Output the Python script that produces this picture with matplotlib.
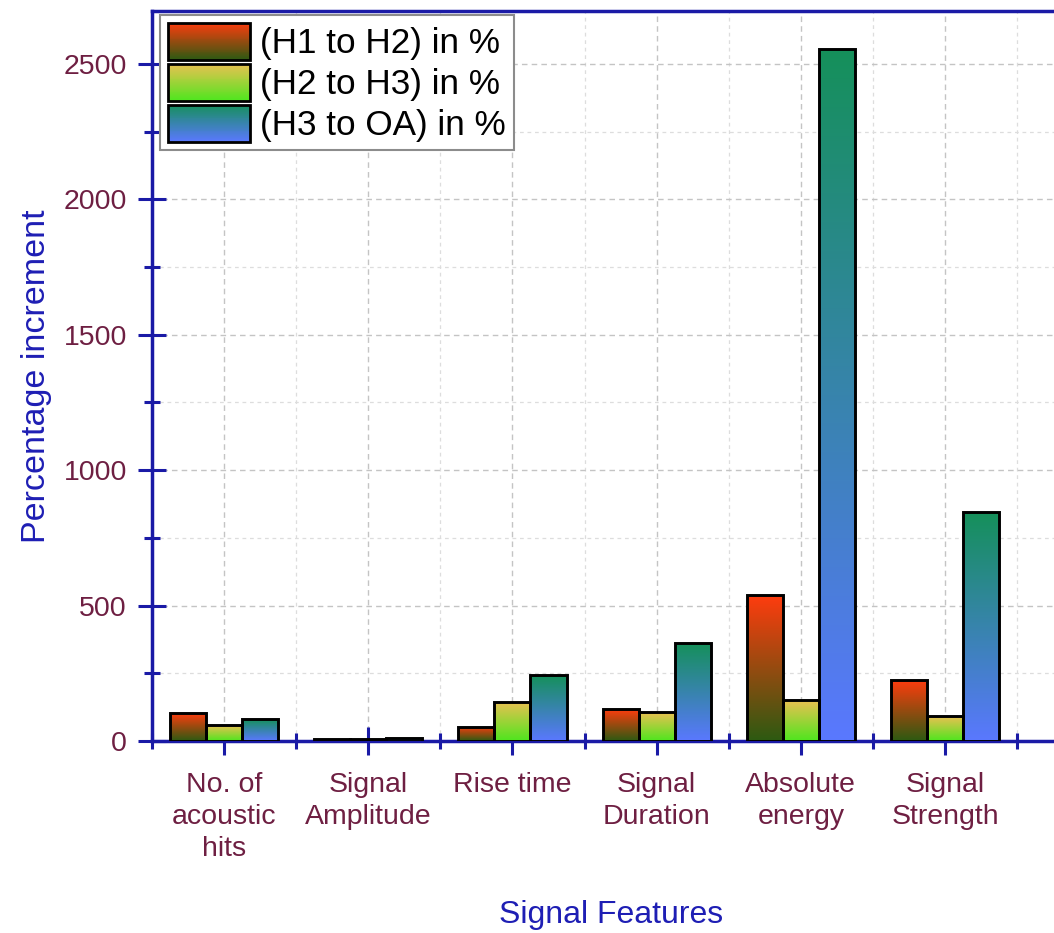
import numpy as np
import matplotlib
matplotlib.use("Agg")
import matplotlib.pyplot as plt
from matplotlib.patches import Rectangle
from matplotlib.legend_handler import HandlerBase
from matplotlib.ticker import MultipleLocator, FixedLocator
from matplotlib.colors import to_rgb

# ---- data -------------------------------------------------------------
categories = ["No. of\nacoustic\nhits", "Signal\nAmplitude", "Rise time",
              "Signal\nDuration", "Absolute\nenergy", "Signal\nStrength"]
series_names = ["(H1 to H2) in %", "(H2 to H3) in %", "(H3 to OA) in %"]
h1_to_h2 = [103, 8, 52, 118, 538, 225]
h2_to_h3 = [59, 6, 144, 107, 151, 92]
h3_to_oa = [81, 10, 243, 361, 2555, 845]

# gradient colours (top, bottom) for each series
grad_top = ["#ff3c0e", "#ecc052", "#15905a"]
grad_bottom = ["#2c5a12", "#4ee61e", "#5a78ff"]

plt.rcParams["font.family"] = ["Liberation Sans", "DejaVu Sans"]

TICK_COLOR = "#6e1f42"
AXIS_BLUE = "#1a1aa6"
LABEL_BLUE = "#1e1eb4"

fig = plt.figure(figsize=(10.54, 9.33), dpi=100)
ax = fig.add_axes([152 / 1054, 1 - 741 / 933, 1 - 152 / 1054, 730 / 933])

x = np.arange(1, len(categories) + 1)
width = 0.25
offsets = [-width, 0.0, width]
all_values = [h1_to_h2, h2_to_h3, h3_to_oa]


def gradient_image(top, bottom, n=256):
    t = np.linspace(0, 1, n)[:, None]
    b = np.array(to_rgb(bottom))
    c = np.array(to_rgb(top))
    img = b[None, :] * (1 - t) + c[None, :] * t
    return img[:, None, :]


for vals, off, top, bot in zip(all_values, offsets, grad_top, grad_bottom):
    bars = ax.bar(x + off, vals, width=width, facecolor="none",
                  edgecolor="black", linewidth=2.1, zorder=4)
    img = gradient_image(top, bot)
    for rect in bars:
        x0 = rect.get_x()
        h = rect.get_height()
        im = ax.imshow(img, extent=(x0, x0 + rect.get_width(), 0, h),
                       origin="lower", aspect="auto", interpolation="bilinear",
                       zorder=3)
        im.set_clip_path(rect)

ax.set_xlim(0.5, 6.756)
ax.set_ylim(0, 2695)
ax.set_aspect("auto")

# ticks
ax.set_xticks(x)
ax.set_xticklabels(categories, linespacing=1.3)
ax.xaxis.set_minor_locator(FixedLocator(np.arange(0.5, 7.0, 1.0)))
ax.yaxis.set_major_locator(MultipleLocator(500))
ax.yaxis.set_minor_locator(MultipleLocator(250))

ax.tick_params(axis="both", which="major", direction="inout", length=20,
               width=2.2, color=AXIS_BLUE, labelcolor=TICK_COLOR, labelsize=20.5)
ax.tick_params(axis="both", which="minor", direction="inout", length=11,
               width=2.2, color=AXIS_BLUE)
ax.tick_params(axis="x", which="major", pad=12)
ax.tick_params(axis="y", which="major", pad=8)

for spine in ["left", "bottom", "top"]:
    ax.spines[spine].set_color(AXIS_BLUE)
    ax.spines[spine].set_linewidth(2.5)
ax.spines["right"].set_visible(False)

# grid
ax.grid(which="major", color="#c4c4c4", linestyle=(0, (4, 3)), linewidth=1.0, zorder=0)
ax.grid(which="minor", color="#dddddd", linestyle=(0, (3, 3)), linewidth=0.9, zorder=0)
ax.set_axisbelow(True)

# axis titles
ax.set_xlabel("Signal Features", fontsize=23, color=LABEL_BLUE)
ax.xaxis.label.set_verticalalignment("baseline")
ax.xaxis.set_label_coords((611 - 152) / 902, (741 - 923) / 730)
ax.set_ylabel("Percentage increment", fontsize=24.5, color=LABEL_BLUE)
ax.yaxis.label.set_verticalalignment("baseline")
ax.yaxis.set_label_coords((45 - 152) / 902, 0.5)


# legend with gradient swatches
class GradientHandler(HandlerBase):
    def __init__(self, top, bottom, n=40):
        super().__init__()
        self.top = np.array(to_rgb(top))
        self.bottom = np.array(to_rgb(bottom))
        self.n = n

    def create_artists(self, legend, orig_handle, xdescent, ydescent,
                       width, height, fontsize, trans):
        arts = []
        step = height / self.n
        for k in range(self.n):
            f = (k + 0.5) / self.n
            c = self.bottom * (1 - f) + self.top * f
            arts.append(Rectangle((-xdescent, -ydescent + k * step), width,
                                  step * 1.05, facecolor=c, edgecolor="none",
                                  transform=trans))
        arts.append(Rectangle((-xdescent, -ydescent), width, height,
                              facecolor="none", edgecolor="black",
                              linewidth=2.0, transform=trans))
        return arts


proxies = [Rectangle((0, 0), 1, 1) for _ in series_names]
handler_map = {p: GradientHandler(t, b) for p, t, b in zip(proxies, grad_top, grad_bottom)}
leg = ax.legend(proxies, series_names, handler_map=handler_map,
                loc="upper left", bbox_to_anchor=(8 / 902, 1 - 4 / 730),
                borderaxespad=0, fontsize=25.3, frameon=True, fancybox=False,
                edgecolor="#8c8c8c", framealpha=1, handlelength=2.35,
                handleheight=1.25, handletextpad=0.28, labelspacing=0.1,
                borderpad=0.22)
leg.get_frame().set_linewidth(1.5)
leg.set_zorder(10)

fig.savefig("out.png", dpi=100, facecolor="white")
